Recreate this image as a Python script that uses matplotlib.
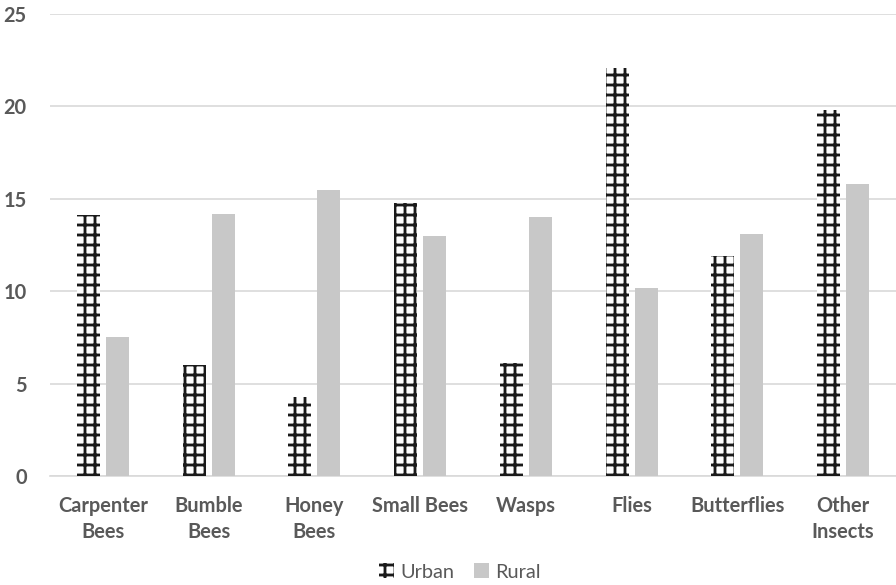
import matplotlib
matplotlib.use("Agg")
import matplotlib.pyplot as plt
import numpy as np
from matplotlib.patches import Patch

categories = ["Carpenter\nBees", "Bumble\nBees", "Honey\nBees", "Small Bees",
              "Wasps", "Flies", "Butterflies", "Other\nInsects"]
urban = [14.1, 6.0, 4.3, 14.8, 6.1, 22.1, 11.9, 19.8]
rural = [7.5, 14.2, 15.5, 13.0, 14.0, 10.2, 13.1, 15.8]
yticks = [0, 5, 10, 15, 20, 25]

DPI = 120
plt.rcParams['font.family'] = ['Lato', 'DejaVu Sans']
plt.rcParams['hatch.linewidth'] = 1.7

fig = plt.figure(figsize=(896 / DPI, 585 / DPI), dpi=DPI)
ax = fig.add_axes([0.0558, 0.1863, 0.9442, 0.7897])

x = np.arange(len(categories))
w = 0.218
off = 0.137
text_c = "#595959"
rural_c = "#c8c8c8"

ax.bar(x - off, urban, w, facecolor="white", edgecolor="#1a1a1a",
       linewidth=0, hatch="++", zorder=3, label="Urban")
ax.bar(x + off, rural, w, color=rural_c, linewidth=0, zorder=3, label="Rural")

ax.set_xlim(-0.5, len(categories) - 0.5)
ax.set_ylim(0, 25)
ax.set_yticks(yticks)
ax.set_yticklabels([str(v) for v in yticks], fontsize=12, fontweight="bold",
                   color=text_c)
ax.set_xticks(x)
ax.set_xticklabels(categories, fontsize=12, fontweight="bold", color=text_c,
                   linespacing=1.35, va="top")
ax.tick_params(axis="both", length=0)
ax.tick_params(axis="y", pad=14)
ax.tick_params(axis="x", pad=12)

ax.grid(axis="y", color="#d9d9d9", linewidth=1.0, zorder=0)
for s in ["top", "right", "left"]:
    ax.spines[s].set_visible(False)
ax.spines["bottom"].set_color("#d9d9d9")
ax.spines["bottom"].set_linewidth(1.0)

handles = [Patch(facecolor="white", edgecolor="#1a1a1a", linewidth=0, hatch="++"),
           Patch(facecolor=rural_c, linewidth=0)]
fig.legend(handles, ["Urban", "Rural"], loc="center", bbox_to_anchor=(0.513, 0.022),
           ncol=2, frameon=False, fontsize=12, handlelength=0.75, handleheight=0.75,
           handletextpad=0.3, columnspacing=1.0, labelcolor=text_c)

fig.savefig("out.png", dpi=DPI)
